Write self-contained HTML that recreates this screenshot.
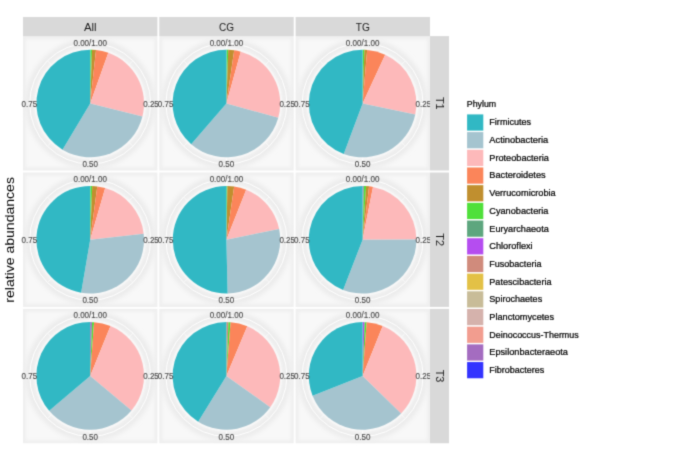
<!DOCTYPE html>
<html><head><meta charset="utf-8"><style>
html,body{margin:0;padding:0;background:#fff;width:685px;height:461px;overflow:hidden}
svg{display:block}
text{font-family:"Liberation Sans",sans-serif}
</style></head><body>
<svg width="685" height="461" viewBox="0 0 685 461">
<rect width="685" height="461" fill="#fff"/>
<defs><filter id="gb" filterUnits="userSpaceOnUse" x="0" y="0" width="685" height="461" color-interpolation-filters="sRGB"><feConvolveMatrix order="3" kernelMatrix="0.0225 0.1050 0.0225 0.1050 0.4900 0.1050 0.0225 0.1050 0.0225" divisor="1" edgeMode="duplicate" preserveAlpha="true"/></filter></defs>
<g filter="url(#gb)">
<rect width="685" height="461" fill="#fff"/>

<defs><filter id="b15" x="-20%" y="-20%" width="140%" height="140%"><feGaussianBlur stdDeviation="1.4"/></filter><filter id="b2" x="-20%" y="-20%" width="140%" height="140%"><feGaussianBlur stdDeviation="2.2"/></filter></defs>
<rect x="23.00" y="36.10" width="134.4" height="134.4" fill="#efefef"/>
<rect x="26.00" y="39.10" width="128.4" height="128.4" fill="#f8f8f8" filter="url(#b15)"/>
<circle cx="90.20" cy="103.50" r="60.5" fill="none" stroke="#ececec" stroke-width="9" filter="url(#b2)"/>
<rect x="159.30" y="36.10" width="134.4" height="134.4" fill="#efefef"/>
<rect x="162.30" y="39.10" width="128.4" height="128.4" fill="#f8f8f8" filter="url(#b15)"/>
<circle cx="226.40" cy="103.50" r="60.5" fill="none" stroke="#ececec" stroke-width="9" filter="url(#b2)"/>
<rect x="295.60" y="36.10" width="134.4" height="134.4" fill="#efefef"/>
<rect x="298.60" y="39.10" width="128.4" height="128.4" fill="#f8f8f8" filter="url(#b15)"/>
<circle cx="362.60" cy="103.50" r="60.5" fill="none" stroke="#ececec" stroke-width="9" filter="url(#b2)"/>
<rect x="23.00" y="172.50" width="134.4" height="134.4" fill="#efefef"/>
<rect x="26.00" y="175.50" width="128.4" height="128.4" fill="#f8f8f8" filter="url(#b15)"/>
<circle cx="90.20" cy="239.75" r="60.5" fill="none" stroke="#ececec" stroke-width="9" filter="url(#b2)"/>
<rect x="159.30" y="172.50" width="134.4" height="134.4" fill="#efefef"/>
<rect x="162.30" y="175.50" width="128.4" height="128.4" fill="#f8f8f8" filter="url(#b15)"/>
<circle cx="226.40" cy="239.75" r="60.5" fill="none" stroke="#ececec" stroke-width="9" filter="url(#b2)"/>
<rect x="295.60" y="172.50" width="134.4" height="134.4" fill="#efefef"/>
<rect x="298.60" y="175.50" width="128.4" height="128.4" fill="#f8f8f8" filter="url(#b15)"/>
<circle cx="362.60" cy="239.75" r="60.5" fill="none" stroke="#ececec" stroke-width="9" filter="url(#b2)"/>
<rect x="23.00" y="308.85" width="134.4" height="134.4" fill="#efefef"/>
<rect x="26.00" y="311.85" width="128.4" height="128.4" fill="#f8f8f8" filter="url(#b15)"/>
<circle cx="90.20" cy="375.90" r="60.5" fill="none" stroke="#ececec" stroke-width="9" filter="url(#b2)"/>
<rect x="159.30" y="308.85" width="134.4" height="134.4" fill="#efefef"/>
<rect x="162.30" y="311.85" width="128.4" height="128.4" fill="#f8f8f8" filter="url(#b15)"/>
<circle cx="226.40" cy="375.90" r="60.5" fill="none" stroke="#ececec" stroke-width="9" filter="url(#b2)"/>
<rect x="295.60" y="308.85" width="134.4" height="134.4" fill="#efefef"/>
<rect x="298.60" y="311.85" width="128.4" height="128.4" fill="#f8f8f8" filter="url(#b15)"/>
<circle cx="362.60" cy="375.90" r="60.5" fill="none" stroke="#ececec" stroke-width="9" filter="url(#b2)"/>
<line x1="90.20" y1="103.50" x2="90.20" y2="43.00" stroke="#fff" stroke-width="1.0"/>
<line x1="90.20" y1="103.50" x2="150.70" y2="103.50" stroke="#fff" stroke-width="1.0"/>
<line x1="90.20" y1="103.50" x2="90.20" y2="164.00" stroke="#fff" stroke-width="1.0"/>
<line x1="90.20" y1="103.50" x2="29.70" y2="103.50" stroke="#fff" stroke-width="1.0"/>
<line x1="90.20" y1="103.50" x2="132.98" y2="60.72" stroke="#fff" stroke-width="0.6"/>
<line x1="90.20" y1="103.50" x2="132.98" y2="146.28" stroke="#fff" stroke-width="0.6"/>
<line x1="90.20" y1="103.50" x2="47.42" y2="146.28" stroke="#fff" stroke-width="0.6"/>
<line x1="90.20" y1="103.50" x2="47.42" y2="60.72" stroke="#fff" stroke-width="0.6"/>
<circle cx="90.20" cy="103.50" r="60.5" fill="none" stroke="#fff" stroke-width="1.0"/>
<circle cx="90.20" cy="103.50" r="54.80" fill="none" stroke="#f9f9f9" stroke-opacity="0.8" stroke-width="1.6"/>
<path d="M90.20,103.50L90.20,49.70A53.8,53.8 0 0 1 90.54,49.70Z" fill="#5da67e"/>
<path d="M90.20,103.50L90.54,49.70A53.8,53.8 0 0 1 92.03,49.73Z" fill="#4fe03a"/>
<path d="M90.20,103.50L92.03,49.73A53.8,53.8 0 0 1 96.00,50.01Z" fill="#c08f2f"/>
<path d="M90.20,103.50L96.00,50.01A53.8,53.8 0 0 1 108.33,52.85Z" fill="#fb855a"/>
<path d="M90.20,103.50L108.33,52.85A53.8,53.8 0 0 1 142.41,116.49Z" fill="#fdb9ba"/>
<path d="M90.20,103.50L142.41,116.49A53.8,53.8 0 0 1 62.52,149.63Z" fill="#a5c4cf"/>
<path d="M90.20,103.50L62.52,149.63A53.8,53.8 0 0 1 90.20,49.70Z" fill="#31b8c4"/>
<line x1="226.40" y1="103.50" x2="226.40" y2="43.00" stroke="#fff" stroke-width="1.0"/>
<line x1="226.40" y1="103.50" x2="286.90" y2="103.50" stroke="#fff" stroke-width="1.0"/>
<line x1="226.40" y1="103.50" x2="226.40" y2="164.00" stroke="#fff" stroke-width="1.0"/>
<line x1="226.40" y1="103.50" x2="165.90" y2="103.50" stroke="#fff" stroke-width="1.0"/>
<line x1="226.40" y1="103.50" x2="269.18" y2="60.72" stroke="#fff" stroke-width="0.6"/>
<line x1="226.40" y1="103.50" x2="269.18" y2="146.28" stroke="#fff" stroke-width="0.6"/>
<line x1="226.40" y1="103.50" x2="183.62" y2="146.28" stroke="#fff" stroke-width="0.6"/>
<line x1="226.40" y1="103.50" x2="183.62" y2="60.72" stroke="#fff" stroke-width="0.6"/>
<circle cx="226.40" cy="103.50" r="60.5" fill="none" stroke="#fff" stroke-width="1.0"/>
<circle cx="226.40" cy="103.50" r="54.80" fill="none" stroke="#f9f9f9" stroke-opacity="0.8" stroke-width="1.6"/>
<path d="M226.40,103.50L226.40,49.70A53.8,53.8 0 0 1 226.74,49.70Z" fill="#5da67e"/>
<path d="M226.40,103.50L226.74,49.70A53.8,53.8 0 0 1 228.23,49.73Z" fill="#4fe03a"/>
<path d="M226.40,103.50L228.23,49.73A53.8,53.8 0 0 1 234.21,50.27Z" fill="#c08f2f"/>
<path d="M226.40,103.50L234.21,50.27A53.8,53.8 0 0 1 240.76,51.65Z" fill="#fb855a"/>
<path d="M226.40,103.50L240.76,51.65A53.8,53.8 0 0 1 278.25,117.86Z" fill="#fdb9ba"/>
<path d="M226.40,103.50L278.25,117.86A53.8,53.8 0 0 1 191.18,144.17Z" fill="#a5c4cf"/>
<path d="M226.40,103.50L191.18,144.17A53.8,53.8 0 0 1 226.40,49.70Z" fill="#31b8c4"/>
<line x1="362.60" y1="103.50" x2="362.60" y2="43.00" stroke="#fff" stroke-width="1.0"/>
<line x1="362.60" y1="103.50" x2="423.10" y2="103.50" stroke="#fff" stroke-width="1.0"/>
<line x1="362.60" y1="103.50" x2="362.60" y2="164.00" stroke="#fff" stroke-width="1.0"/>
<line x1="362.60" y1="103.50" x2="302.10" y2="103.50" stroke="#fff" stroke-width="1.0"/>
<line x1="362.60" y1="103.50" x2="405.38" y2="60.72" stroke="#fff" stroke-width="0.6"/>
<line x1="362.60" y1="103.50" x2="405.38" y2="146.28" stroke="#fff" stroke-width="0.6"/>
<line x1="362.60" y1="103.50" x2="319.82" y2="146.28" stroke="#fff" stroke-width="0.6"/>
<line x1="362.60" y1="103.50" x2="319.82" y2="60.72" stroke="#fff" stroke-width="0.6"/>
<circle cx="362.60" cy="103.50" r="60.5" fill="none" stroke="#fff" stroke-width="1.0"/>
<circle cx="362.60" cy="103.50" r="54.80" fill="none" stroke="#f9f9f9" stroke-opacity="0.8" stroke-width="1.6"/>
<path d="M362.60,103.50L362.60,49.70A53.8,53.8 0 0 1 362.94,49.70Z" fill="#5da67e"/>
<path d="M362.60,103.50L362.94,49.70A53.8,53.8 0 0 1 364.43,49.73Z" fill="#4fe03a"/>
<path d="M362.60,103.50L364.43,49.73A53.8,53.8 0 0 1 367.16,49.89Z" fill="#c08f2f"/>
<path d="M362.60,103.50L367.16,49.89A53.8,53.8 0 0 1 385.20,54.68Z" fill="#fb855a"/>
<path d="M362.60,103.50L385.20,54.68A53.8,53.8 0 0 1 415.25,114.58Z" fill="#fdb9ba"/>
<path d="M362.60,103.50L415.25,114.58A53.8,53.8 0 0 1 343.74,153.89Z" fill="#a5c4cf"/>
<path d="M362.60,103.50L343.74,153.89A53.8,53.8 0 0 1 362.60,49.70Z" fill="#31b8c4"/>
<line x1="90.20" y1="239.75" x2="90.20" y2="179.25" stroke="#fff" stroke-width="1.0"/>
<line x1="90.20" y1="239.75" x2="150.70" y2="239.75" stroke="#fff" stroke-width="1.0"/>
<line x1="90.20" y1="239.75" x2="90.20" y2="300.25" stroke="#fff" stroke-width="1.0"/>
<line x1="90.20" y1="239.75" x2="29.70" y2="239.75" stroke="#fff" stroke-width="1.0"/>
<line x1="90.20" y1="239.75" x2="132.98" y2="196.97" stroke="#fff" stroke-width="0.6"/>
<line x1="90.20" y1="239.75" x2="132.98" y2="282.53" stroke="#fff" stroke-width="0.6"/>
<line x1="90.20" y1="239.75" x2="47.42" y2="282.53" stroke="#fff" stroke-width="0.6"/>
<line x1="90.20" y1="239.75" x2="47.42" y2="196.97" stroke="#fff" stroke-width="0.6"/>
<circle cx="90.20" cy="239.75" r="60.5" fill="none" stroke="#fff" stroke-width="1.0"/>
<circle cx="90.20" cy="239.75" r="54.80" fill="none" stroke="#f9f9f9" stroke-opacity="0.8" stroke-width="1.6"/>
<path d="M90.20,239.75L90.20,185.95A53.8,53.8 0 0 1 90.54,185.95Z" fill="#5da67e"/>
<path d="M90.20,239.75L90.54,185.95A53.8,53.8 0 0 1 92.23,185.99Z" fill="#4fe03a"/>
<path d="M90.20,239.75L92.23,185.99A53.8,53.8 0 0 1 97.28,186.42Z" fill="#c08f2f"/>
<path d="M90.20,239.75L97.28,186.42A53.8,53.8 0 0 1 105.21,188.09Z" fill="#fb855a"/>
<path d="M90.20,239.75L105.21,188.09A53.8,53.8 0 0 1 143.66,233.68Z" fill="#fdb9ba"/>
<path d="M90.20,239.75L143.66,233.68A53.8,53.8 0 0 1 81.12,292.78Z" fill="#a5c4cf"/>
<path d="M90.20,239.75L81.12,292.78A53.8,53.8 0 0 1 90.20,185.95Z" fill="#31b8c4"/>
<line x1="226.40" y1="239.75" x2="226.40" y2="179.25" stroke="#fff" stroke-width="1.0"/>
<line x1="226.40" y1="239.75" x2="286.90" y2="239.75" stroke="#fff" stroke-width="1.0"/>
<line x1="226.40" y1="239.75" x2="226.40" y2="300.25" stroke="#fff" stroke-width="1.0"/>
<line x1="226.40" y1="239.75" x2="165.90" y2="239.75" stroke="#fff" stroke-width="1.0"/>
<line x1="226.40" y1="239.75" x2="269.18" y2="196.97" stroke="#fff" stroke-width="0.6"/>
<line x1="226.40" y1="239.75" x2="269.18" y2="282.53" stroke="#fff" stroke-width="0.6"/>
<line x1="226.40" y1="239.75" x2="183.62" y2="282.53" stroke="#fff" stroke-width="0.6"/>
<line x1="226.40" y1="239.75" x2="183.62" y2="196.97" stroke="#fff" stroke-width="0.6"/>
<circle cx="226.40" cy="239.75" r="60.5" fill="none" stroke="#fff" stroke-width="1.0"/>
<circle cx="226.40" cy="239.75" r="54.80" fill="none" stroke="#f9f9f9" stroke-opacity="0.8" stroke-width="1.6"/>
<path d="M226.40,239.75L226.40,185.95A53.8,53.8 0 0 1 227.41,185.96Z" fill="#4fe03a"/>
<path d="M226.40,239.75L227.41,185.96A53.8,53.8 0 0 1 234.15,186.51Z" fill="#c08f2f"/>
<path d="M226.40,239.75L234.15,186.51A53.8,53.8 0 0 1 246.21,189.73Z" fill="#fb855a"/>
<path d="M226.40,239.75L246.21,189.73A53.8,53.8 0 0 1 279.12,229.01Z" fill="#fdb9ba"/>
<path d="M226.40,239.75L279.12,229.01A53.8,53.8 0 0 1 227.62,293.54Z" fill="#a5c4cf"/>
<path d="M226.40,239.75L227.62,293.54A53.8,53.8 0 1 1 226.40,185.95Z" fill="#31b8c4"/>
<line x1="362.60" y1="239.75" x2="362.60" y2="179.25" stroke="#fff" stroke-width="1.0"/>
<line x1="362.60" y1="239.75" x2="423.10" y2="239.75" stroke="#fff" stroke-width="1.0"/>
<line x1="362.60" y1="239.75" x2="362.60" y2="300.25" stroke="#fff" stroke-width="1.0"/>
<line x1="362.60" y1="239.75" x2="302.10" y2="239.75" stroke="#fff" stroke-width="1.0"/>
<line x1="362.60" y1="239.75" x2="405.38" y2="196.97" stroke="#fff" stroke-width="0.6"/>
<line x1="362.60" y1="239.75" x2="405.38" y2="282.53" stroke="#fff" stroke-width="0.6"/>
<line x1="362.60" y1="239.75" x2="319.82" y2="282.53" stroke="#fff" stroke-width="0.6"/>
<line x1="362.60" y1="239.75" x2="319.82" y2="196.97" stroke="#fff" stroke-width="0.6"/>
<circle cx="362.60" cy="239.75" r="60.5" fill="none" stroke="#fff" stroke-width="1.0"/>
<circle cx="362.60" cy="239.75" r="54.80" fill="none" stroke="#f9f9f9" stroke-opacity="0.8" stroke-width="1.6"/>
<path d="M362.60,239.75L362.60,185.95A53.8,53.8 0 0 1 363.82,185.96Z" fill="#a46cc0"/>
<path d="M362.60,239.75L363.82,185.96A53.8,53.8 0 0 1 366.15,186.07Z" fill="#4fe03a"/>
<path d="M362.60,239.75L366.15,186.07A53.8,53.8 0 0 1 369.11,186.35Z" fill="#c08f2f"/>
<path d="M362.60,239.75L369.11,186.35A53.8,53.8 0 0 1 373.01,186.97Z" fill="#fb855a"/>
<path d="M362.60,239.75L373.01,186.97A53.8,53.8 0 0 1 416.40,239.41Z" fill="#fdb9ba"/>
<path d="M362.60,239.75L416.40,239.41A53.8,53.8 0 0 1 343.11,289.90Z" fill="#a5c4cf"/>
<path d="M362.60,239.75L343.11,289.90A53.8,53.8 0 0 1 362.60,185.95Z" fill="#31b8c4"/>
<line x1="90.20" y1="375.90" x2="90.20" y2="315.40" stroke="#fff" stroke-width="1.0"/>
<line x1="90.20" y1="375.90" x2="150.70" y2="375.90" stroke="#fff" stroke-width="1.0"/>
<line x1="90.20" y1="375.90" x2="90.20" y2="436.40" stroke="#fff" stroke-width="1.0"/>
<line x1="90.20" y1="375.90" x2="29.70" y2="375.90" stroke="#fff" stroke-width="1.0"/>
<line x1="90.20" y1="375.90" x2="132.98" y2="333.12" stroke="#fff" stroke-width="0.6"/>
<line x1="90.20" y1="375.90" x2="132.98" y2="418.68" stroke="#fff" stroke-width="0.6"/>
<line x1="90.20" y1="375.90" x2="47.42" y2="418.68" stroke="#fff" stroke-width="0.6"/>
<line x1="90.20" y1="375.90" x2="47.42" y2="333.12" stroke="#fff" stroke-width="0.6"/>
<circle cx="90.20" cy="375.90" r="60.5" fill="none" stroke="#fff" stroke-width="1.0"/>
<circle cx="90.20" cy="375.90" r="54.80" fill="none" stroke="#f9f9f9" stroke-opacity="0.8" stroke-width="1.6"/>
<path d="M90.20,375.90L90.20,322.10A53.8,53.8 0 0 1 92.03,322.13Z" fill="#a46cc0"/>
<path d="M90.20,375.90L92.03,322.13A53.8,53.8 0 0 1 94.05,322.24Z" fill="#4fe03a"/>
<path d="M90.20,375.90L94.05,322.24A53.8,53.8 0 0 1 110.48,326.07Z" fill="#fb855a"/>
<path d="M90.20,375.90L110.48,326.07A53.8,53.8 0 0 1 131.44,410.45Z" fill="#fdb9ba"/>
<path d="M90.20,375.90L131.44,410.45A53.8,53.8 0 0 1 49.18,410.71Z" fill="#a5c4cf"/>
<path d="M90.20,375.90L49.18,410.71A53.8,53.8 0 0 1 90.20,322.10Z" fill="#31b8c4"/>
<line x1="226.40" y1="375.90" x2="226.40" y2="315.40" stroke="#fff" stroke-width="1.0"/>
<line x1="226.40" y1="375.90" x2="286.90" y2="375.90" stroke="#fff" stroke-width="1.0"/>
<line x1="226.40" y1="375.90" x2="226.40" y2="436.40" stroke="#fff" stroke-width="1.0"/>
<line x1="226.40" y1="375.90" x2="165.90" y2="375.90" stroke="#fff" stroke-width="1.0"/>
<line x1="226.40" y1="375.90" x2="269.18" y2="333.12" stroke="#fff" stroke-width="0.6"/>
<line x1="226.40" y1="375.90" x2="269.18" y2="418.68" stroke="#fff" stroke-width="0.6"/>
<line x1="226.40" y1="375.90" x2="183.62" y2="418.68" stroke="#fff" stroke-width="0.6"/>
<line x1="226.40" y1="375.90" x2="183.62" y2="333.12" stroke="#fff" stroke-width="0.6"/>
<circle cx="226.40" cy="375.90" r="60.5" fill="none" stroke="#fff" stroke-width="1.0"/>
<circle cx="226.40" cy="375.90" r="54.80" fill="none" stroke="#f9f9f9" stroke-opacity="0.8" stroke-width="1.6"/>
<path d="M226.40,375.90L226.40,322.10A53.8,53.8 0 0 1 228.43,322.14Z" fill="#d08b7c"/>
<path d="M226.40,375.90L228.43,322.14A53.8,53.8 0 0 1 230.55,322.26Z" fill="#4fe03a"/>
<path d="M226.40,375.90L230.55,322.26A53.8,53.8 0 0 1 247.30,326.33Z" fill="#fb855a"/>
<path d="M226.40,375.90L247.30,326.33A53.8,53.8 0 0 1 270.20,407.14Z" fill="#fdb9ba"/>
<path d="M226.40,375.90L270.20,407.14A53.8,53.8 0 0 1 198.15,421.68Z" fill="#a5c4cf"/>
<path d="M226.40,375.90L198.15,421.68A53.8,53.8 0 0 1 226.40,322.10Z" fill="#31b8c4"/>
<line x1="362.60" y1="375.90" x2="362.60" y2="315.40" stroke="#fff" stroke-width="1.0"/>
<line x1="362.60" y1="375.90" x2="423.10" y2="375.90" stroke="#fff" stroke-width="1.0"/>
<line x1="362.60" y1="375.90" x2="362.60" y2="436.40" stroke="#fff" stroke-width="1.0"/>
<line x1="362.60" y1="375.90" x2="302.10" y2="375.90" stroke="#fff" stroke-width="1.0"/>
<line x1="362.60" y1="375.90" x2="405.38" y2="333.12" stroke="#fff" stroke-width="0.6"/>
<line x1="362.60" y1="375.90" x2="405.38" y2="418.68" stroke="#fff" stroke-width="0.6"/>
<line x1="362.60" y1="375.90" x2="319.82" y2="418.68" stroke="#fff" stroke-width="0.6"/>
<line x1="362.60" y1="375.90" x2="319.82" y2="333.12" stroke="#fff" stroke-width="0.6"/>
<circle cx="362.60" cy="375.90" r="60.5" fill="none" stroke="#fff" stroke-width="1.0"/>
<circle cx="362.60" cy="375.90" r="54.80" fill="none" stroke="#f9f9f9" stroke-opacity="0.8" stroke-width="1.6"/>
<path d="M362.60,375.90L362.60,322.10A53.8,53.8 0 0 1 364.63,322.14Z" fill="#b54df0"/>
<path d="M362.60,375.90L364.63,322.14A53.8,53.8 0 0 1 366.65,322.25Z" fill="#4fe03a"/>
<path d="M362.60,375.90L366.65,322.25A53.8,53.8 0 0 1 382.72,326.00Z" fill="#fb855a"/>
<path d="M362.60,375.90L382.72,326.00A53.8,53.8 0 0 1 401.07,413.51Z" fill="#fdb9ba"/>
<path d="M362.60,375.90L401.07,413.51A53.8,53.8 0 0 1 312.58,395.71Z" fill="#a5c4cf"/>
<path d="M362.60,375.90L312.58,395.71A53.8,53.8 0 0 1 362.60,322.10Z" fill="#31b8c4"/>
<text x="90.20" y="46.00" font-size="8.40" fill="#474747" stroke="#474747" stroke-width="0.12" text-anchor="middle" textLength="33.53" lengthAdjust="spacingAndGlyphs">0.00/1.00</text>
<text x="151.00" y="106.70" font-size="8.40" fill="#474747" stroke="#474747" stroke-width="0.12" text-anchor="middle" textLength="15.59" lengthAdjust="spacingAndGlyphs">0.25</text>
<text x="90.20" y="167.20" font-size="8.40" fill="#474747" stroke="#474747" stroke-width="0.12" text-anchor="middle" textLength="15.59" lengthAdjust="spacingAndGlyphs">0.50</text>
<text x="29.40" y="106.70" font-size="8.40" fill="#474747" stroke="#474747" stroke-width="0.12" text-anchor="middle" textLength="15.59" lengthAdjust="spacingAndGlyphs">0.75</text>
<text x="226.40" y="46.00" font-size="8.40" fill="#474747" stroke="#474747" stroke-width="0.12" text-anchor="middle" textLength="33.53" lengthAdjust="spacingAndGlyphs">0.00/1.00</text>
<text x="287.20" y="106.70" font-size="8.40" fill="#474747" stroke="#474747" stroke-width="0.12" text-anchor="middle" textLength="15.59" lengthAdjust="spacingAndGlyphs">0.25</text>
<text x="226.40" y="167.20" font-size="8.40" fill="#474747" stroke="#474747" stroke-width="0.12" text-anchor="middle" textLength="15.59" lengthAdjust="spacingAndGlyphs">0.50</text>
<text x="165.60" y="106.70" font-size="8.40" fill="#474747" stroke="#474747" stroke-width="0.12" text-anchor="middle" textLength="15.59" lengthAdjust="spacingAndGlyphs">0.75</text>
<text x="362.60" y="46.00" font-size="8.40" fill="#474747" stroke="#474747" stroke-width="0.12" text-anchor="middle" textLength="33.53" lengthAdjust="spacingAndGlyphs">0.00/1.00</text>
<text x="423.40" y="106.70" font-size="8.40" fill="#474747" stroke="#474747" stroke-width="0.12" text-anchor="middle" textLength="15.59" lengthAdjust="spacingAndGlyphs">0.25</text>
<text x="362.60" y="167.20" font-size="8.40" fill="#474747" stroke="#474747" stroke-width="0.12" text-anchor="middle" textLength="15.59" lengthAdjust="spacingAndGlyphs">0.50</text>
<text x="301.80" y="106.70" font-size="8.40" fill="#474747" stroke="#474747" stroke-width="0.12" text-anchor="middle" textLength="15.59" lengthAdjust="spacingAndGlyphs">0.75</text>
<text x="90.20" y="182.25" font-size="8.40" fill="#474747" stroke="#474747" stroke-width="0.12" text-anchor="middle" textLength="33.53" lengthAdjust="spacingAndGlyphs">0.00/1.00</text>
<text x="151.00" y="242.95" font-size="8.40" fill="#474747" stroke="#474747" stroke-width="0.12" text-anchor="middle" textLength="15.59" lengthAdjust="spacingAndGlyphs">0.25</text>
<text x="90.20" y="303.45" font-size="8.40" fill="#474747" stroke="#474747" stroke-width="0.12" text-anchor="middle" textLength="15.59" lengthAdjust="spacingAndGlyphs">0.50</text>
<text x="29.40" y="242.95" font-size="8.40" fill="#474747" stroke="#474747" stroke-width="0.12" text-anchor="middle" textLength="15.59" lengthAdjust="spacingAndGlyphs">0.75</text>
<text x="226.40" y="182.25" font-size="8.40" fill="#474747" stroke="#474747" stroke-width="0.12" text-anchor="middle" textLength="33.53" lengthAdjust="spacingAndGlyphs">0.00/1.00</text>
<text x="287.20" y="242.95" font-size="8.40" fill="#474747" stroke="#474747" stroke-width="0.12" text-anchor="middle" textLength="15.59" lengthAdjust="spacingAndGlyphs">0.25</text>
<text x="226.40" y="303.45" font-size="8.40" fill="#474747" stroke="#474747" stroke-width="0.12" text-anchor="middle" textLength="15.59" lengthAdjust="spacingAndGlyphs">0.50</text>
<text x="165.60" y="242.95" font-size="8.40" fill="#474747" stroke="#474747" stroke-width="0.12" text-anchor="middle" textLength="15.59" lengthAdjust="spacingAndGlyphs">0.75</text>
<text x="362.60" y="182.25" font-size="8.40" fill="#474747" stroke="#474747" stroke-width="0.12" text-anchor="middle" textLength="33.53" lengthAdjust="spacingAndGlyphs">0.00/1.00</text>
<text x="423.40" y="242.95" font-size="8.40" fill="#474747" stroke="#474747" stroke-width="0.12" text-anchor="middle" textLength="15.59" lengthAdjust="spacingAndGlyphs">0.25</text>
<text x="362.60" y="303.45" font-size="8.40" fill="#474747" stroke="#474747" stroke-width="0.12" text-anchor="middle" textLength="15.59" lengthAdjust="spacingAndGlyphs">0.50</text>
<text x="301.80" y="242.95" font-size="8.40" fill="#474747" stroke="#474747" stroke-width="0.12" text-anchor="middle" textLength="15.59" lengthAdjust="spacingAndGlyphs">0.75</text>
<text x="90.20" y="318.40" font-size="8.40" fill="#474747" stroke="#474747" stroke-width="0.12" text-anchor="middle" textLength="33.53" lengthAdjust="spacingAndGlyphs">0.00/1.00</text>
<text x="151.00" y="379.10" font-size="8.40" fill="#474747" stroke="#474747" stroke-width="0.12" text-anchor="middle" textLength="15.59" lengthAdjust="spacingAndGlyphs">0.25</text>
<text x="90.20" y="439.60" font-size="8.40" fill="#474747" stroke="#474747" stroke-width="0.12" text-anchor="middle" textLength="15.59" lengthAdjust="spacingAndGlyphs">0.50</text>
<text x="29.40" y="379.10" font-size="8.40" fill="#474747" stroke="#474747" stroke-width="0.12" text-anchor="middle" textLength="15.59" lengthAdjust="spacingAndGlyphs">0.75</text>
<text x="226.40" y="318.40" font-size="8.40" fill="#474747" stroke="#474747" stroke-width="0.12" text-anchor="middle" textLength="33.53" lengthAdjust="spacingAndGlyphs">0.00/1.00</text>
<text x="287.20" y="379.10" font-size="8.40" fill="#474747" stroke="#474747" stroke-width="0.12" text-anchor="middle" textLength="15.59" lengthAdjust="spacingAndGlyphs">0.25</text>
<text x="226.40" y="439.60" font-size="8.40" fill="#474747" stroke="#474747" stroke-width="0.12" text-anchor="middle" textLength="15.59" lengthAdjust="spacingAndGlyphs">0.50</text>
<text x="165.60" y="379.10" font-size="8.40" fill="#474747" stroke="#474747" stroke-width="0.12" text-anchor="middle" textLength="15.59" lengthAdjust="spacingAndGlyphs">0.75</text>
<text x="362.60" y="318.40" font-size="8.40" fill="#474747" stroke="#474747" stroke-width="0.12" text-anchor="middle" textLength="33.53" lengthAdjust="spacingAndGlyphs">0.00/1.00</text>
<text x="423.40" y="379.10" font-size="8.40" fill="#474747" stroke="#474747" stroke-width="0.12" text-anchor="middle" textLength="15.59" lengthAdjust="spacingAndGlyphs">0.25</text>
<text x="362.60" y="439.60" font-size="8.40" fill="#474747" stroke="#474747" stroke-width="0.12" text-anchor="middle" textLength="15.59" lengthAdjust="spacingAndGlyphs">0.50</text>
<text x="301.80" y="379.10" font-size="8.40" fill="#474747" stroke="#474747" stroke-width="0.12" text-anchor="middle" textLength="15.59" lengthAdjust="spacingAndGlyphs">0.75</text>
<rect x="23.00" y="17" width="134.4" height="19.1" fill="#d9d9d9"/>
<rect x="159.30" y="17" width="134.4" height="19.1" fill="#d9d9d9"/>
<rect x="295.60" y="17" width="134.4" height="19.1" fill="#d9d9d9"/>
<rect x="430" y="36.10" width="19" height="134.4" fill="#d9d9d9"/>
<rect x="430" y="172.50" width="19" height="134.4" fill="#d9d9d9"/>
<rect x="430" y="308.85" width="19" height="134.4" fill="#d9d9d9"/>
<text x="90.20" y="30.6" font-size="11.02" fill="#1a1a1a" text-anchor="middle" textLength="12.65" lengthAdjust="spacingAndGlyphs">All</text>
<text x="226.50" y="30.6" font-size="11.02" fill="#1a1a1a" text-anchor="middle" textLength="15.03" lengthAdjust="spacingAndGlyphs">CG</text>
<text x="362.80" y="30.6" font-size="11.02" fill="#1a1a1a" text-anchor="middle" textLength="14.13" lengthAdjust="spacingAndGlyphs">TG</text>
<text transform="translate(439.5,103.30) rotate(90)" x="0" y="3.72" font-size="11.02" fill="#1a1a1a" text-anchor="middle" textLength="12.72" lengthAdjust="spacingAndGlyphs">T1</text>
<text transform="translate(439.5,239.70) rotate(90)" x="0" y="3.72" font-size="11.02" fill="#1a1a1a" text-anchor="middle" textLength="12.72" lengthAdjust="spacingAndGlyphs">T2</text>
<text transform="translate(439.5,376.05) rotate(90)" x="0" y="3.72" font-size="11.02" fill="#1a1a1a" text-anchor="middle" textLength="12.72" lengthAdjust="spacingAndGlyphs">T3</text>
<text transform="translate(14.4,239.9) rotate(-90)" x="0" y="0" font-size="13.09" fill="#000" text-anchor="middle" textLength="125.63" lengthAdjust="spacingAndGlyphs">relative abundances</text>
<text x="466.8" y="106.6" font-size="8.37" fill="#000" stroke="#000" stroke-width="0.22" textLength="29.34" lengthAdjust="spacingAndGlyphs">Phylum</text>
<rect x="467.1" y="114.40" width="16.2" height="16.2" fill="#31b8c4"/>
<text x="489.3" y="125.40" font-size="8.64" fill="#000" stroke="#000" stroke-width="0.22" textLength="41.87" lengthAdjust="spacingAndGlyphs">Firmicutes</text>
<rect x="467.1" y="132.09" width="16.2" height="16.2" fill="#a5c4cf"/>
<text x="489.3" y="143.09" font-size="8.64" fill="#000" stroke="#000" stroke-width="0.22" textLength="58.99" lengthAdjust="spacingAndGlyphs">Actinobacteria</text>
<rect x="467.1" y="149.78" width="16.2" height="16.2" fill="#fdb9ba"/>
<text x="489.3" y="160.78" font-size="8.64" fill="#000" stroke="#000" stroke-width="0.22" textLength="59.59" lengthAdjust="spacingAndGlyphs">Proteobacteria</text>
<rect x="467.1" y="167.47" width="16.2" height="16.2" fill="#fb855a"/>
<text x="489.3" y="178.47" font-size="8.64" fill="#000" stroke="#000" stroke-width="0.22" textLength="56.34" lengthAdjust="spacingAndGlyphs">Bacteroidetes</text>
<rect x="467.1" y="185.16" width="16.2" height="16.2" fill="#c08f2f"/>
<text x="489.3" y="196.16" font-size="8.64" fill="#000" stroke="#000" stroke-width="0.22" textLength="66.42" lengthAdjust="spacingAndGlyphs">Verrucomicrobia</text>
<rect x="467.1" y="202.85" width="16.2" height="16.2" fill="#4fe03a"/>
<text x="489.3" y="213.85" font-size="8.64" fill="#000" stroke="#000" stroke-width="0.22" textLength="59.13" lengthAdjust="spacingAndGlyphs">Cyanobacteria</text>
<rect x="467.1" y="220.54" width="16.2" height="16.2" fill="#5da67e"/>
<text x="489.3" y="231.54" font-size="8.64" fill="#000" stroke="#000" stroke-width="0.22" textLength="59.49" lengthAdjust="spacingAndGlyphs">Euryarchaeota</text>
<rect x="467.1" y="238.23" width="16.2" height="16.2" fill="#b54df0"/>
<text x="489.3" y="249.23" font-size="8.64" fill="#000" stroke="#000" stroke-width="0.22" textLength="43.36" lengthAdjust="spacingAndGlyphs">Chloroflexi</text>
<rect x="467.1" y="255.92" width="16.2" height="16.2" fill="#d08b7c"/>
<text x="489.3" y="266.92" font-size="8.64" fill="#000" stroke="#000" stroke-width="0.22" textLength="52.11" lengthAdjust="spacingAndGlyphs">Fusobacteria</text>
<rect x="467.1" y="273.61" width="16.2" height="16.2" fill="#e3c146"/>
<text x="489.3" y="284.61" font-size="8.64" fill="#000" stroke="#000" stroke-width="0.22" textLength="62.21" lengthAdjust="spacingAndGlyphs">Patescibacteria</text>
<rect x="467.1" y="291.30" width="16.2" height="16.2" fill="#c8bc98"/>
<text x="489.3" y="302.30" font-size="8.64" fill="#000" stroke="#000" stroke-width="0.22" textLength="52.88" lengthAdjust="spacingAndGlyphs">Spirochaetes</text>
<rect x="467.1" y="308.99" width="16.2" height="16.2" fill="#d5b2ac"/>
<text x="489.3" y="319.99" font-size="8.64" fill="#000" stroke="#000" stroke-width="0.22" textLength="64.71" lengthAdjust="spacingAndGlyphs">Planctomycetes</text>
<rect x="467.1" y="326.68" width="16.2" height="16.2" fill="#f29d8f"/>
<text x="489.3" y="337.68" font-size="8.64" fill="#000" stroke="#000" stroke-width="0.22" textLength="89.46" lengthAdjust="spacingAndGlyphs">Deinococcus-Thermus</text>
<rect x="467.1" y="344.37" width="16.2" height="16.2" fill="#a46cc0"/>
<text x="489.3" y="355.37" font-size="8.64" fill="#000" stroke="#000" stroke-width="0.22" textLength="78.64" lengthAdjust="spacingAndGlyphs">Epsilonbacteraeota</text>
<rect x="467.1" y="362.06" width="16.2" height="16.2" fill="#3333ff"/>
<text x="489.3" y="373.06" font-size="8.64" fill="#000" stroke="#000" stroke-width="0.22" textLength="54.98" lengthAdjust="spacingAndGlyphs">Fibrobacteres</text>
</g></svg>
</body></html>
